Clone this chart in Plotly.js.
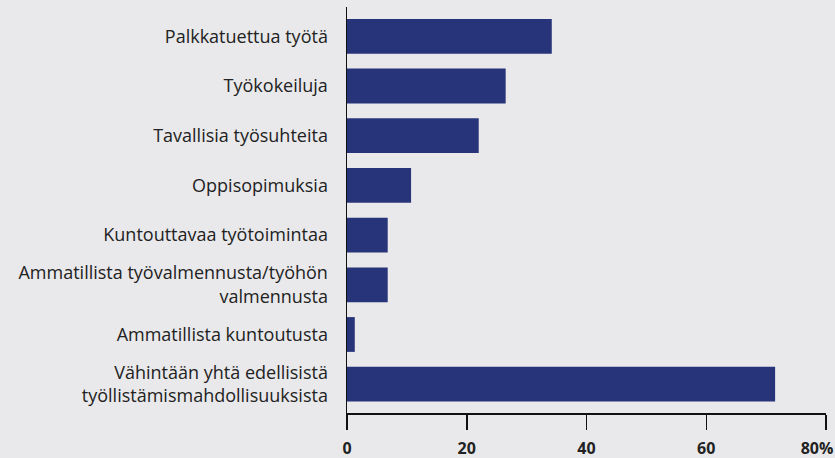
<!DOCTYPE html>
<html>
<head>
<meta charset="utf-8">
<script src="https://cdn.plot.ly/plotly-3.0.1.min.js"></script>
<style>html,body{margin:0;padding:0;background:#e9e9eb;}#chart{width:835px;height:458px;}</style>
</head>
<body>
<div id="chart"></div>
<script>
const categories = [
  "Palkkatuettua työtä",
  "Työkokeiluja",
  "Tavallisia työsuhteita",
  "Oppisopimuksia",
  "Kuntouttavaa työtoimintaa",
  "Ammatillista työvalmennusta/työhön<br>valmennusta",
  "Ammatillista kuntoutusta",
  "Vähintään yhtä edellisistä<br>työllistämismahdollisuuksista"
];
const values = [34.2, 26.5, 22.0, 10.7, 6.8, 6.8, 1.3, 71.5];
const tickValues = [0, 20, 40, 60, 80];
const tickLabels = ["0", "20", "40", "60", ""];
const lastTickValue = [80];
const lastTickLabel = ["80%"];

const trace = {
  type: "bar",
  orientation: "h",
  y: categories,
  x: values,
  marker: {color: "#28347a"},
  width: 0.7,
  hoverinfo: "skip"
};

// empty helper trace so the secondary x axis (for the shifted "80%" label) is drawn
const helper = {
  type: "scatter",
  mode: "markers",
  x: [],
  y: [],
  xaxis: "x2",
  yaxis: "y",
  hoverinfo: "skip",
  showlegend: false
};

const tickStyle = {
  showgrid: false,
  zeroline: false,
  ticks: "outside",
  ticklen: 15,
  tickwidth: 1.5,
  tickcolor: "#111",
  ticklabelstandoff: 5,
  tickfont: {family: "Open Sans, sans-serif", size: 16, color: "#222", weight: "bold"}
};

const layout = {
  width: 835,
  height: 458,
  margin: {l: 347, r: 9, t: 7, b: 45},
  paper_bgcolor: "#e9e9eb",
  plot_bgcolor: "#e9e9eb",
  showlegend: false,
  font: {family: "Open Sans, sans-serif", color: "#222"},
  xaxis: Object.assign({}, tickStyle, {
    range: [0, 80],
    tickvals: tickValues,
    ticktext: tickLabels,
    showline: true,
    linecolor: "#111",
    linewidth: 1.5
  }),
  xaxis2: Object.assign({}, tickStyle, {
    range: [0, 80],
    overlaying: "x",
    anchor: "y",
    side: "bottom",
    tickvals: lastTickValue,
    ticktext: lastTickLabel,
    ticks: "",
    ticklabelstandoff: 24,
    ticklabelshift: -9,
    showline: false
  }),
  yaxis: {
    type: "category",
    range: [7.58, -0.59],
    showgrid: false,
    zeroline: false,
    showline: true,
    linecolor: "#111",
    linewidth: 1.5,
    ticks: "",
    ticklabelstandoff: 14,
    tickfont: {family: "Open Sans, sans-serif", size: 18, color: "#222"}
  }
};

Plotly.newPlot("chart", [trace, helper], layout, {displayModeBar: false, staticPlot: true});
</script>
</body>
</html>
